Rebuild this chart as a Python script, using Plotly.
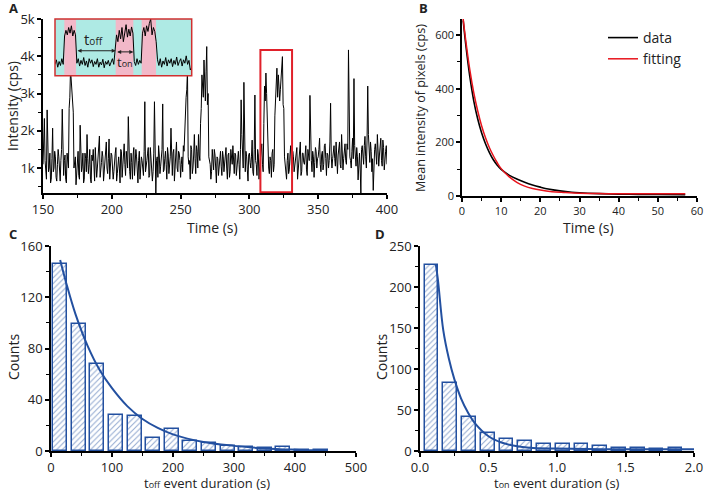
import plotly.graph_objects as go

# ---- Panel A: intensity trace (cps), values on whole seconds 150..400 s
trace_t = list(range(150, 401))
trace_cps = [
    1100, 2330, 800, 2560, 900, 1400, 700, 2070, 1000, 1300,
    650, 1500, 900, 1200, 2580, 800, 1350, 600, 1250, 2600,
    3650, 2830, 2500, 1100, 550, 1300, 800, 2150, 900, 1400,
    700, 1250, 1900, 850, 1500, 600, 1200, 950, 1550, 750,
    1300, 1860, 900, 1450, 650, 1200, 1700, 850, 1780, 1000,
    1350, 700, 1250, 1550, 850, 1300, 600, 1450, 1000, 1650,
    800, 1200, 2380, 900, 1400, 700, 1550, 1050, 1300, 600,
    1450, 950, 1200, 800, 2780, 1000, 1400, 750, 1550, 1100,
    900, 2780, 330, 1300, 1600, 850, 1200, 2720, 950, 1450,
    700, 1350, 1000, 2070, 800, 1500, 1150, 1700, 900, 1400,
    750, 1300, 1600, 2100, 2900, 3630, 1100, 700, 1500, 1000,
    1900, 850, 1450, 1900, 1200, 2600, 3100, 3900, 2800, 4260,
    3000, 1200, 700, 1500, 950, 1350, 600, 1250, 1000, 1450,
    800, 1300, 1100, 1550, 700, 1400, 900, 1250, 1600, 850,
    1350, 1050, 1450, 700, 2830, 1500, 3300, 900, 1300, 650,
    1400, 1000, 1750, 800, 2960, 1100, 1500, 700, 1300, 1650,
    900, 3200, 3550, 2400, 1000, 1300, 750, 1500, 1100, 3000,
    3680, 3500, 2800, 3400, 3990, 2600, 1100, 700, 1400, 950,
    1600, 850, 1300, 1050, 1500, 700, 1250, 1700, 900, 1400,
    1100, 1600, 800, 1350, 2950, 1200, 1450, 750, 1550, 1000,
    1300, 1800, 900, 1450, 1100, 1650, 800, 1350, 1200, 2740,
    1000, 1500, 1250, 1700, 850, 1550, 1100, 1900, 950, 1450,
    1200, 1650, 4170, 1300, 1000, 1800, 3400, 1200, 1550, 680,
    1400, 330, 1600, 1100, 1850, 1000, 3200, 1300, 1700, 900,
    400, 1500, 1250, 1900, 1050, 1600, 1200, 1750, 950, 1450,
    1100,
]
# values on the half seconds 150.5..399.5 s
trace_t_half = [t + 0.5 for t in range(150, 400)]
trace_cps_half = [
    1500, 1200, 700, 1350, 1000, 600, 1250, 900, 1450, 750,
    1100, 1300, 650, 1500, 900, 1200, 700, 1400, 1000, 2900,
    3300, 2600, 1000, 1300, 900, 1450, 700, 1200, 1050, 600,
    1400, 900, 1250, 1100, 700, 1350, 1500, 650, 1200, 1000,
    1450, 750, 1150, 1300, 900, 1550, 1000, 1250, 700, 1400,
    1050, 900, 1400, 650, 1200, 1000, 1500, 750, 1300, 1100,
    1450, 1000, 1250, 700, 1150, 1350, 800, 1500, 950, 1200,
    700, 1300, 1050, 1450, 900, 1200, 1550, 800, 1250, 650,
    1400, 1000, 1200, 750, 1350, 1050, 1500, 900, 1250, 1100,
    1550, 850, 1300, 1150, 1400, 650, 1250, 1000, 1450, 1200,
    1100, 900, 1450, 2500, 3100, 1300, 1200, 1600, 850, 1350,
    1250, 1600, 1000, 1350, 2200, 3500, 2900, 3300, 3600, 2700,
    1300, 1100, 900, 1250, 1500, 1000, 1300, 800, 1200, 1050,
    1450, 900, 1250, 1000, 1350, 750, 1500, 1100, 1000, 1400,
    800, 1250, 1100, 1500, 1900, 1000, 1200, 1450, 950, 1350,
    1150, 1300, 900, 1500, 1200, 800, 1350, 1050, 1400, 1100,
    2200, 2800, 3000, 1300, 850, 1200, 1400, 900, 2400, 3300,
    2900, 3200, 3100, 3700, 2700, 1300, 1000, 1200, 850, 1350,
    1100, 1450, 900, 1250, 1550, 1000, 1300, 800, 1400, 1150,
    1350, 950, 1500, 1200, 1600, 900, 1300, 1150, 1450, 1250,
    1500, 1100, 1350, 950, 1600, 1250, 1400, 1000, 1700, 1300,
    1250, 1600, 1050, 1400, 1350, 1700, 1000, 1500, 1250, 1650,
    1100, 1500, 1800, 1200, 1450, 1250, 1600, 1050, 1300, 1150,
    1000, 1500, 1350, 1600, 1300, 1750, 1900, 1150, 1450, 1250,
    1300, 1650, 1100, 1500, 1350, 1800, 1050, 1550, 1300, 1600,
]
# highlighted window in panel A (s, cps)
box_t = [308, 331]
box_cps = [350, 4170]

# ---- Panel A inset: schematic blinking trace
inset_x = list(range(0, 101))
inset_y = [
    0.2, 0.28, 0.15, 0.25, 0.18, 0.3, 0.2, 0.7, 0.8, 0.72,
    0.85, 0.75, 0.88, 0.7, 0.8, 0.72, 0.22, 0.3, 0.17, 0.27,
    0.2, 0.32, 0.18, 0.26, 0.15, 0.3, 0.22, 0.28, 0.16, 0.25,
    0.2, 0.3, 0.15, 0.24, 0.19, 0.29, 0.14, 0.25, 0.2, 0.27,
    0.17, 0.23, 0.3, 0.2, 0.55, 0.72, 0.6, 0.8, 0.65, 0.85,
    0.6, 0.78, 0.9, 0.68, 0.82, 0.7, 0.86, 0.75, 0.25, 0.18,
    0.3, 0.2, 0.27, 0.22, 0.75, 0.85, 0.7, 0.88, 0.78, 0.92,
    1.0, 0.72, 0.85, 0.78, 0.6, 0.28, 0.18, 0.3, 0.15, 0.26,
    0.2, 0.32, 0.17, 0.28, 0.22, 0.3, 0.16, 0.27, 0.2, 0.33,
    0.18, 0.25, 0.3, 0.17, 0.28, 0.22, 0.35, 0.2, 0.27, 0.1,
    0.15,
]
on_bands = [(6.8, 15.4), (44.4, 57.3), (63.4, 73.9)]

# ---- Panel B: mean pixel intensity decay
b_data_t = [0.3, 1, 2, 3, 4, 5, 6, 7, 8, 9, 10, 12, 14, 16, 18, 20, 22, 25, 28, 30, 35, 40, 45, 50, 57]
b_data_y = [655, 560, 445, 355, 288, 236, 195, 162, 135, 115, 99, 78, 63, 51, 41, 33, 26, 19, 14, 12, 9, 7, 6, 6, 5]
b_fit_t = [0.3, 1, 2, 3, 4, 5, 6, 7, 8, 9, 10, 12, 14, 16, 18, 20, 23, 26, 30, 35, 40, 50, 57]
b_fit_y = [660, 575, 470, 385, 318, 262, 217, 180, 150, 124, 102, 72, 51, 37, 28, 22, 16, 13, 10, 9, 8, 8, 8]

# ---- Panel C: t_off histogram
c_centers = [15, 45.5, 76, 106.5, 137, 167.5, 198, 228.5, 259, 289.5, 320, 350.5, 381, 411.5, 442]
c_counts = [146, 99, 68, 28, 27, 10, 17, 8, 6, 4, 3, 2, 3, 1, 1]
c_fit_x = [15, 25, 40, 60, 80, 100, 125, 150, 175, 200, 250, 300, 350, 400, 435]
c_fit_y = [149, 131, 107, 82, 63, 49, 35, 25, 18, 13, 7, 4, 2, 1, 0.6]

# ---- Panel D: t_on histogram
d_centers = [0.083, 0.22, 0.357, 0.494, 0.631, 0.768, 0.905, 1.042, 1.179, 1.316, 1.453, 1.59, 1.727, 1.864]
d_counts = [227, 83, 41, 22, 15, 12, 8, 8.5, 8, 6, 4, 4, 2.5, 3.5]
d_fit_x = [0.115, 0.13, 0.17, 0.21, 0.25, 0.3, 0.35, 0.4, 0.5, 0.6, 0.7, 0.8, 1.0, 1.5, 2.0]
d_fit_y = [228, 210, 147, 113, 88, 64, 47, 34, 18, 10, 6, 4, 3, 2, 2]

BLUE = "#2350a0"
FONT = "Open Sans"
W, H = 708, 492


def px_x(px):
    return px / W


def px_y(py):
    return 1 - py / H


# merge whole- and half-second readings into one time-ordered trace
pairs = sorted(zip(trace_t + trace_t_half, trace_cps + trace_cps_half))
all_t = [p[0] for p in pairs]
all_cps = [p[1] for p in pairs]

fig = go.Figure()

# panel A
fig.add_trace(go.Scatter(x=all_t, y=all_cps, mode="lines",
                         line=dict(color="black", width=1), showlegend=False,
                         xaxis="x", yaxis="y"))

# inset
fig.add_trace(go.Scatter(x=inset_x, y=inset_y, mode="lines",
                         line=dict(color="black", width=1), showlegend=False,
                         xaxis="x5", yaxis="y5"))

# panel B
fig.add_trace(go.Scatter(x=b_data_t, y=b_data_y, mode="lines", name="data",
                         line=dict(color="black", width=1.6, shape="spline"),
                         xaxis="x2", yaxis="y2"))
fig.add_trace(go.Scatter(x=b_fit_t, y=b_fit_y, mode="lines", name="fitting",
                         line=dict(color="#e8141c", width=1.5, shape="spline"),
                         xaxis="x2", yaxis="y2"))

# panel C
hatch = dict(shape="/", fgcolor=BLUE, bgcolor="white", size=4, solidity=0.25)
fig.add_trace(go.Bar(x=c_centers, y=c_counts, width=23,
                     marker=dict(color="white", line=dict(color=BLUE, width=1.5), pattern=hatch),
                     showlegend=False, xaxis="x3", yaxis="y3"))
fig.add_trace(go.Scatter(x=c_fit_x, y=c_fit_y, mode="lines",
                         line=dict(color=BLUE, width=2, shape="spline"),
                         showlegend=False, xaxis="x3", yaxis="y3"))

# panel D
fig.add_trace(go.Bar(x=d_centers, y=d_counts, width=0.1,
                     marker=dict(color="white", line=dict(color=BLUE, width=1.5), pattern=hatch),
                     showlegend=False, xaxis="x4", yaxis="y4"))
fig.add_trace(go.Scatter(x=d_fit_x, y=d_fit_y, mode="lines",
                         line=dict(color=BLUE, width=2, shape="spline"),
                         showlegend=False, xaxis="x4", yaxis="y4"))

axis_common = dict(showline=True, linecolor="black", linewidth=1.5, ticks="outside",
                   ticklen=4, tickwidth=1.5, tickcolor="black", showgrid=False,
                   zeroline=False, automargin=False,
                   tickfont=dict(family=FONT, size=13, color="#222"))


def ax(domain, rng, dtick, minor, anchor, **kw):
    d = dict(axis_common)
    d.update(domain=domain, range=rng, dtick=dtick, anchor=anchor,
             minor=dict(ticks="outside", dtick=minor, ticklen=3, tickwidth=1.2, tickcolor="black"))
    d.update(kw)
    return d


small_ticks = dict(tickfont=dict(family=FONT, size=11, color="#222"))

shapes = []
# highlight box in A
shapes.append(dict(type="rect", xref="x", yref="y", x0=box_t[0], x1=box_t[1],
                   y0=box_cps[0], y1=box_cps[1], line=dict(color="#e0202a", width=2)))
# inset background bands
shapes.append(dict(type="rect", xref="x5", yref="y5", x0=0, x1=100, y0=0, y1=1,
                   fillcolor="#aeeae4", line=dict(width=0), layer="below"))
for b0, b1 in on_bands:
    shapes.append(dict(type="rect", xref="x5", yref="y5", x0=b0, x1=b1, y0=0, y1=1,
                       fillcolor="#f2b8c8", line=dict(width=0), layer="below"))
shapes.append(dict(type="rect", xref="x5 domain", yref="y5 domain", x0=0, x1=1, y0=0, y1=1,
                   line=dict(color="#d03030", width=1.5)))

ann = []


def text(x, y, s, size=14, angle=0, bold=False):
    ann.append(dict(x=px_x(x), y=px_y(y), xref="paper", yref="paper", text=f"<b>{s}</b>" if bold else s,
                    showarrow=False, textangle=angle, xanchor="center", yanchor="middle",
                    font=dict(family=FONT, size=size, color="#222")))


def small(s, size=9):
    return f"<span style='font-size:{size}px'>{s}</span>"


text(13, 8, "A", 13, bold=True)
text(423, 8, "B", 13, bold=True)
text(13, 234, "C", 13, bold=True)
text(380, 234, "D", 13, bold=True)
text(12, 106, "Intensity (cps)", angle=-90)
text(213, 227, "Time (s)")
text(421, 108, "Mean intensity of pixels (cps)", 12.5, angle=-90)
text(588, 227, "Time (s)")
text(13, 357, "Counts", angle=-90)
text(207, 482.5, "t" + small("off") + " event duration (s)", 13)
text(381, 357, "Counts", angle=-90)
text(557, 482.5, "t" + small("on") + " event duration (s)", 13)

# inset arrows and labels
for x0, x1, yy in [(15.4, 44.4, 0.44), (44.4, 57.3, 0.42)]:
    ann.append(dict(x=x1, y=yy, ax=x0, ay=yy, xref="x5", yref="y5", axref="x5", ayref="y5",
                    showarrow=True, arrowhead=2, arrowside="end+start", arrowsize=0.8,
                    arrowwidth=1, arrowcolor="#222", text=""))
ann.append(dict(x=28, y=0.65, xref="x5", yref="y5", text="t" + small("off", 10), showarrow=False,
                font=dict(family=FONT, size=15, color="#222")))
ann.append(dict(x=51, y=0.24, xref="x5", yref="y5", text="t" + small("on", 9), showarrow=False,
                font=dict(family=FONT, size=13, color="#222")))

fig.update_layout(
    width=W, height=H, margin=dict(l=0, r=0, t=0, b=0),
    plot_bgcolor="white", paper_bgcolor="white",
    font=dict(family=FONT, size=14, color="#222"),
    bargap=0,
    xaxis=ax([px_x(43), px_x(387)], [150, 400], 50, 25, "y"),
    yaxis=ax([px_y(193), px_y(19)], [330, 5000], 1000, 500, "x",
             tickvals=[1000, 2000, 3000, 4000, 5000], ticktext=["1k", "2k", "3k", "4k", "5k"]),
    xaxis2=ax([px_x(462), px_x(697)], [0, 60], 10, 5, "y2", **small_ticks),
    yaxis2=ax([px_y(196), px_y(19)], [0, 660], 200, 100, "x2", **small_ticks),
    xaxis3=ax([px_x(51), px_x(356)], [0, 500], 100, 50, "y3"),
    yaxis3=ax([px_y(451), px_y(246)], [0, 160], 40, 20, "x3"),
    xaxis4=ax([px_x(420), px_x(694)], [0, 2], 0.5, 0.25, "y4", tickformat=".1f"),
    yaxis4=ax([px_y(451), px_y(246)], [0, 250], 50, 25, "x4"),
    xaxis5=dict(domain=[px_x(55), px_x(191.7)], range=[0, 100], anchor="y5", visible=False),
    yaxis5=dict(domain=[px_y(75.7), px_y(19)], range=[0, 1], anchor="x5", visible=False),
    legend=dict(x=px_x(603), y=px_y(22), xanchor="left", yanchor="top",
                bgcolor="rgba(0,0,0,0)", font=dict(family=FONT, size=14, color="#222"),
                tracegroupgap=0, itemwidth=30),
    shapes=shapes, annotations=ann,
)

# drop the default page margin so the figure sits at the window's top-left corner
fig.write_html("out.html", config={"displayModeBar": False},
               post_script="document.body.style.margin='0';")
